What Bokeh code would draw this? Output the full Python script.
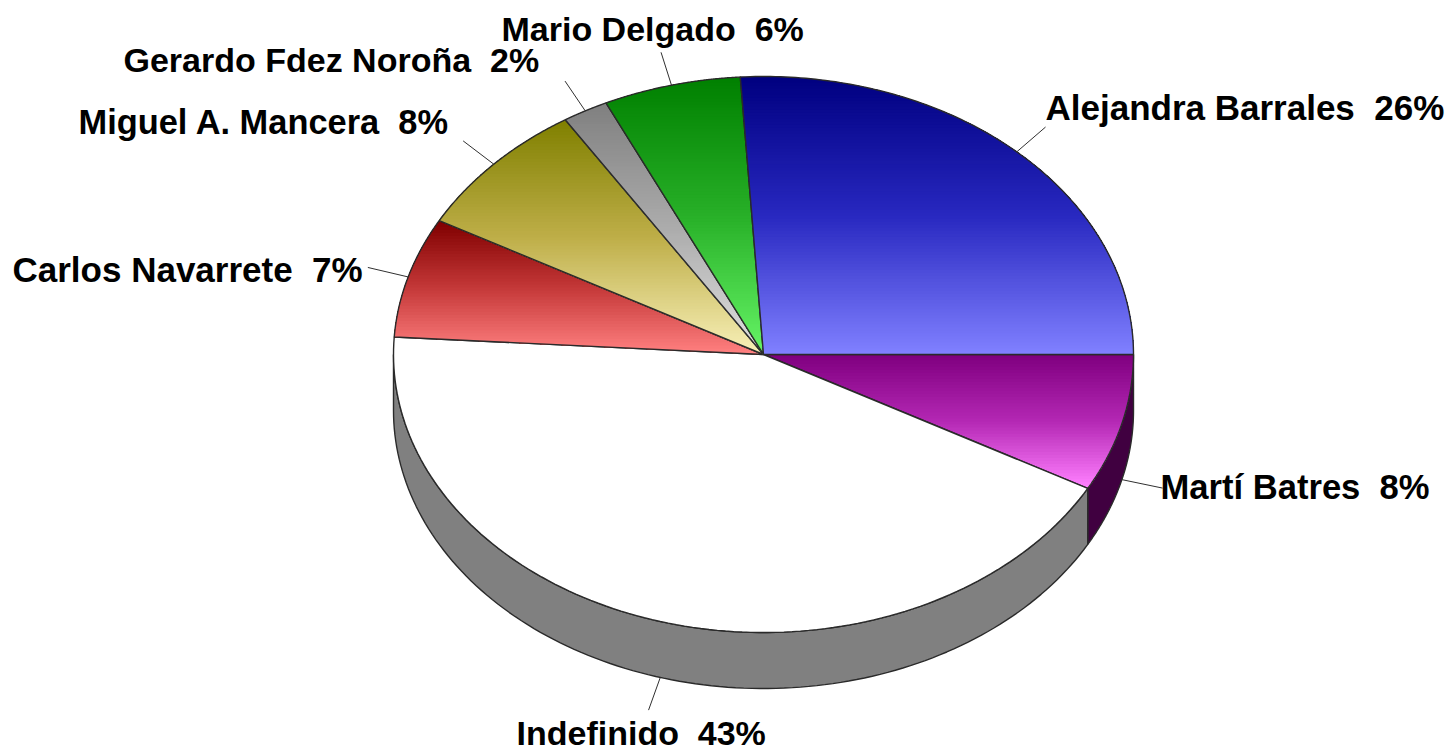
import math
from bokeh.plotting import figure
from bokeh.embed import file_html
from bokeh.resources import INLINE
from bokeh.core.properties import value

# ---- data (clockwise from due east) ----
names = ["Martí Batres", "Indefinido", "Carlos Navarrete", "Miguel A. Mancera",
         "Gerardo Fdez Noroña", "Mario Delgado", "Alejandra Barrales"]
shares = [8, 43, 7, 8, 2, 6, 26]
top_colors = ["#800080", "#FFFFFF", "#800000", "#808000", "#808080", "#008000", "#000080"]
mid_colors = ["#B428B4", "#FFFFFF", "#C43838", "#BEAE48", "#ACACAC", "#28B028", "#2828C0"]
bottom_colors = ["#FF80FF", "#FFFFFF", "#FF8080", "#F8F0B8", "#E0E0E0", "#66F466", "#8080FF"]
side_colors = ["#400040", "#808080", None, None, None, None, None]

# ---- layout (page pixels) ----
W, H = 1450, 751
CX, CY, RX, RY, DEPTH = 763.0, 354.0, 370.0, 278.0, 56.0
FONT = "Liberation Sans"
FONT_SIZES = ["34.6px", "34px", "35px", "34.4px", "34px", "34px", "35px"]
LABEL_POS = [(1160, 486), (516, 732), (12, 269), (78, 121), (123, 59), (501, 28), (1045, 107)]

p = figure(width=W, height=H, x_range=(0, W), y_range=(H, 0),
           output_backend="svg", toolbar_location=None, min_border=0,
           outline_line_color=None)
p.axis.visible = False
p.grid.visible = False


def rim(a):
    return CX + RX * math.cos(a), CY + RY * math.sin(a)


def arc(a0, a1, n=120):
    return [rim(a0 + (a1 - a0) * i / n) for i in range(n + 1)]


def clip_below(poly, yc):
    out = []
    for i, (x0, y0) in enumerate(poly):
        x1, y1 = poly[(i + 1) % len(poly)]
        if y0 >= yc:
            out.append((x0, y0))
        if (y0 >= yc) != (y1 >= yc):
            t = (yc - y0) / (y1 - y0)
            out.append((x0 + t * (x1 - x0), yc))
    return out


def mix(c0, c1, t):
    a = [int(c0[i:i + 2], 16) for i in (1, 3, 5)]
    b = [int(c1[i:i + 2], 16) for i in (1, 3, 5)]
    return "#%02x%02x%02x" % tuple(round(u + (v - u) * t) for u, v in zip(a, b))


def ramp(c0, cm, c1, t):
    return mix(c0, cm, t * 2) if t < 0.5 else mix(cm, c1, t * 2 - 1)


total = sum(shares)
edges = [0.0]
for s in shares:
    edges.append(edges[-1] + 2 * math.pi * s / total)

OUTLINE = dict(line_color="#2a2a2a", line_width=1.4)

# side walls
for k, col in enumerate(side_colors):
    if col is None:
        continue
    a0, a1 = edges[k], min(edges[k + 1], math.pi)
    front = arc(a0, a1)
    poly = front + [(x, y + DEPTH) for x, y in reversed(front)]
    p.patch([q[0] for q in poly], [q[1] for q in poly], fill_color=col, **OUTLINE)

# top faces with a vertical gradient, painted over from the top down
for k, s in enumerate(shares):
    a0, a1 = edges[k], edges[k + 1]
    poly = [(CX, CY)] + arc(a0, a1)
    ys = [q[1] for q in poly]
    y0, y1 = min(ys), max(ys)
    if top_colors[k] == bottom_colors[k]:
        p.patch([q[0] for q in poly], [q[1] for q in poly], fill_color=top_colors[k], line_color=None)
    else:
        n = max(2, int((y1 - y0) / 3))
        for i in range(n):
            yc = y0 + (y1 - y0) * i / n
            part = poly if i == 0 else clip_below(poly, yc)
            if len(part) < 3:
                continue
            p.patch([q[0] for q in part], [q[1] for q in part],
                    fill_color=ramp(top_colors[k], mid_colors[k], bottom_colors[k], i / (n - 1)),
                    line_color=None)
    p.patch([q[0] for q in poly], [q[1] for q in poly], fill_color=None, **OUTLINE)

# leader lines and labels
for k, name in enumerate(names):
    mid = (edges[k] + edges[k + 1]) / 2
    x, y = rim(mid)
    if math.sin(mid) > 0:
        y += DEPTH
    p.line([x, x + 42 * math.cos(mid)], [y, y + 34 * math.sin(mid)],
           line_color="#303030", line_width=1)
    lx, ly = LABEL_POS[k]
    p.text([lx], [ly], text=[f"{name}\u00a0\u00a0{shares[k]}%"], text_font=value(FONT),
           text_font_size=FONT_SIZES[k], text_font_style="bold", text_color="black",
           text_align="left", text_baseline="middle")

open("out.html", "w").write(file_html(p, INLINE))
